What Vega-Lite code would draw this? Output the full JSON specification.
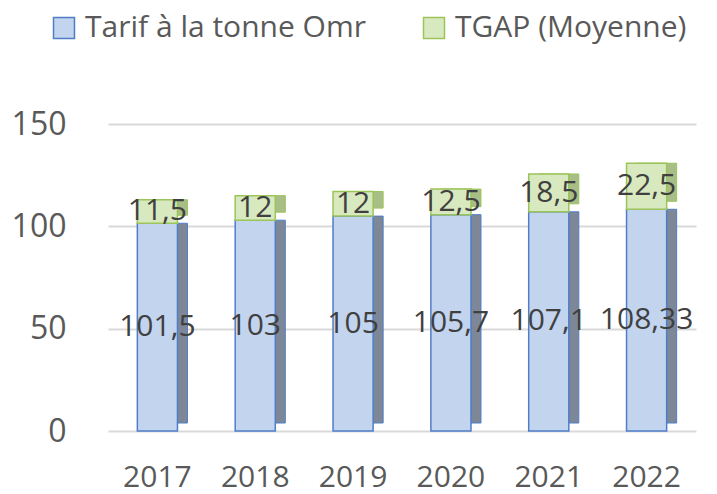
{
  "$schema": "https://vega.github.io/schema/vega-lite/v6.json",
  "width": 588,
  "height": 307,
  "autosize": {"type": "none"},
  "padding": {"left": 108, "top": 124, "right": 21, "bottom": 63},
  "background": "white",
  "config": {
    "font": "Open Sans",
    "view": {"stroke": null},
    "axis": {"labelFont": "Open Sans", "labelColor": "#595959"}
  },
  "data": {
    "values": [
      {"year": "2017", "serie": "Tarif à  la tonne Omr", "ord": 1, "value": 101.5, "label": "101,5"},
      {"year": "2018", "serie": "Tarif à  la tonne Omr", "ord": 1, "value": 103, "label": "103"},
      {"year": "2019", "serie": "Tarif à  la tonne Omr", "ord": 1, "value": 105, "label": "105"},
      {"year": "2020", "serie": "Tarif à  la tonne Omr", "ord": 1, "value": 105.7, "label": "105,7"},
      {"year": "2021", "serie": "Tarif à  la tonne Omr", "ord": 1, "value": 107.1, "label": "107,1"},
      {"year": "2022", "serie": "Tarif à  la tonne Omr", "ord": 1, "value": 108.33, "label": "108,33"},
      {"year": "2017", "serie": "TGAP (Moyenne)", "ord": 2, "value": 11.5, "label": "11,5"},
      {"year": "2018", "serie": "TGAP (Moyenne)", "ord": 2, "value": 12, "label": "12"},
      {"year": "2019", "serie": "TGAP (Moyenne)", "ord": 2, "value": 12, "label": "12"},
      {"year": "2020", "serie": "TGAP (Moyenne)", "ord": 2, "value": 12.5, "label": "12,5"},
      {"year": "2021", "serie": "TGAP (Moyenne)", "ord": 2, "value": 18.5, "label": "18,5"},
      {"year": "2022", "serie": "TGAP (Moyenne)", "ord": 2, "value": 22.5, "label": "22,5"}
    ]
  },
  "transform": [
    {"stack": "value", "groupby": ["year"], "sort": [{"field": "ord", "order": "ascending"}], "as": ["v0", "v1"]},
    {"calculate": "(datum.v0 + datum.v1) / 2", "as": "mid"}
  ],
  "encoding": {
    "x": {
      "field": "year", "type": "ordinal", "title": null,
      "scale": {"paddingInner": 0.59, "paddingOuter": 0.3},
      "axis": {"labelAngle": 0, "domain": false, "ticks": false, "labelPadding": 31, "labelFontSize": 30}
    }
  },
  "layer": [
    {
      "mark": {"type": "bar", "xOffset": 10, "yOffset": -8, "strokeWidth": 1},
      "encoding": {
        "y": {
          "field": "v0", "type": "quantitative", "title": null,
          "scale": {"domain": [0, 150], "nice": false},
          "axis": {"values": [0, 50, 100, 150], "domain": false, "ticks": false, "labelPadding": 42, "labelFontSize": 32, "gridColor": "#d9d9d9", "gridWidth": 2}
        },
        "y2": {"field": "v1"},
        "fill": {"condition": {"test": "datum.ord == 1", "value": "#7d8797"}, "value": "#a9be86"},
        "stroke": {"condition": {"test": "datum.ord == 1", "value": "#4f7ec8"}, "value": "#9bc45a"}
      }
    },
    {
      "mark": {"type": "bar", "strokeWidth": 1.5},
      "encoding": {
        "y": {"field": "v0", "type": "quantitative", "scale": {"domain": [0, 150], "nice": false}},
        "y2": {"field": "v1"},
        "fill": {
          "field": "serie", "type": "nominal", "title": null,
          "scale": {"domain": ["Tarif à  la tonne Omr", "TGAP (Moyenne)"], "range": ["#c3d4ee", "#d9e9bf"]},
          "legend": {
            "orient": "none", "legendX": -59, "legendY": -111, "direction": "horizontal",
            "symbolType": "square", "symbolSize": 440, "symbolStrokeWidth": 1.5,
            "labelFontSize": 30, "labelColor": "#595959", "labelFont": "Open Sans",
            "columnPadding": 45, "labelOffset": 6, "labelLimit": 400
          }
        },
        "stroke": {
          "field": "serie", "type": "nominal",
          "scale": {"domain": ["Tarif à  la tonne Omr", "TGAP (Moyenne)"], "range": ["#4f7ec8", "#9bc45a"]},
          "legend": null
        },
        "order": {"field": "ord"}
      }
    },
    {
      "mark": {"type": "text", "fontSize": 30, "color": "#404040", "font": "Open Sans"},
      "encoding": {
        "y": {"field": "mid", "type": "quantitative", "scale": {"domain": [0, 150], "nice": false}},
        "text": {"field": "label"}
      }
    }
  ]
}
